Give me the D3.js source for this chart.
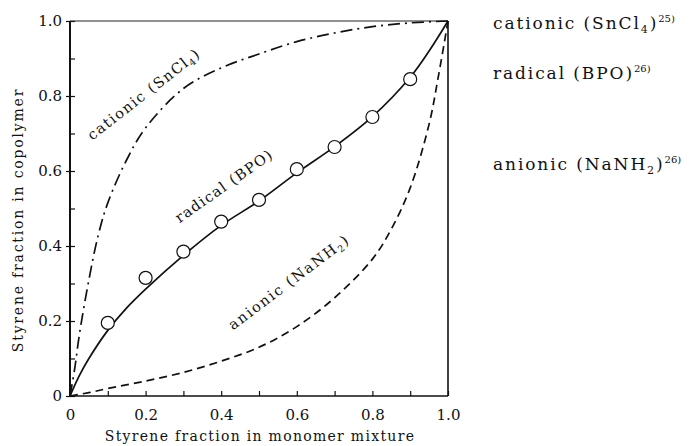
<!DOCTYPE html>
<html>
<head>
<meta charset="utf-8">
<script src="https://cdn.jsdelivr.net/npm/d3@7"></script>
<style>
  html, body { margin: 0; padding: 0; background: #fff; }
  svg { display: block; }
  text { font-family: "DejaVu Serif", "Liberation Serif", serif; fill: #111; }
</style>
</head>
<body>
<svg id="chart" width="689" height="446"></svg>
<script>
// Styrene fraction in monomer feed (x) vs. in copolymer (y)
const tickValues = [0, 0.2, 0.4, 0.6, 0.8, 1.0];
const tickLabels = ["0", "0.2", "0.4", "0.6", "0.8", "1.0"];
const minorTicks = [0.1, 0.3, 0.5, 0.7, 0.9];

// cationic (SnCl4) composition curve
const cationicX = [0, 0.012, 0.025, 0.05, 0.075, 0.1, 0.15, 0.2, 0.3, 0.4, 0.5, 0.6, 0.7, 0.8, 0.9, 1.0];
const cationicY = [0, 0.07, 0.165, 0.31, 0.43, 0.515, 0.63, 0.715, 0.82, 0.875, 0.912, 0.945, 0.968, 0.985, 0.995, 1.0];

// radical (BPO) composition curve
const radicalX = [0, 0.025, 0.05, 0.1, 0.15, 0.2, 0.3, 0.4, 0.5, 0.6, 0.7, 0.8, 0.9, 0.95, 1.0];
const radicalY = [0, 0.055, 0.1, 0.175, 0.235, 0.285, 0.375, 0.455, 0.52, 0.595, 0.665, 0.745, 0.85, 0.92, 1.0];

// radical (BPO) measured points
const pointX = [0.1, 0.2, 0.3, 0.4, 0.5, 0.6, 0.7, 0.8, 0.9];
const pointY = [0.195, 0.315, 0.385, 0.465, 0.523, 0.605, 0.664, 0.744, 0.845];

// anionic (NaNH2) composition curve
const anionicX = [0, 0.05, 0.1, 0.2, 0.3, 0.4, 0.5, 0.6, 0.7, 0.8, 0.85, 0.9, 0.95, 0.975, 1.0];
const anionicY = [0, 0.009, 0.02, 0.04, 0.063, 0.093, 0.13, 0.185, 0.262, 0.365, 0.445, 0.555, 0.725, 0.855, 1.0];

const svg = d3.select("#chart");
const x = d3.scaleLinear().domain([0, 1]).range([70, 448]);
const y = d3.scaleLinear().domain([0, 1]).range([396, 21]);

const allTicks = tickValues.concat(minorTicks).sort((a, b) => a - b);
const fmt = v => {
  const i = tickValues.findIndex(t => Math.abs(t - v) < 1e-9);
  return i >= 0 ? tickLabels[i] : "";
};

// axes: inward ticks, labels only on the major values
const gx = svg.append("g").attr("transform", `translate(0,${y(0)})`)
  .call(d3.axisBottom(x).tickValues(allTicks).tickSize(-5).tickPadding(13).tickFormat(fmt));
const gy = svg.append("g").attr("transform", `translate(${x(0)},0)`)
  .call(d3.axisLeft(y).tickValues(allTicks).tickSize(-5).tickPadding(8).tickFormat(fmt));
[gx, gy].forEach(g => {
  g.select(".domain").remove();
  g.selectAll("line").attr("stroke", "#111").attr("stroke-width", 1.2);
  g.selectAll("text").attr("font-size", 15).attr("font-family", "DejaVu Serif").attr("fill", "#111");
});
// short outward marks at the labelled y values
gy.selectAll(".tick").filter(d => tickValues.some(t => Math.abs(t - d) < 1e-9))
  .append("line").attr("x2", -4).attr("stroke", "#111").attr("stroke-width", 1.2);

// frame
svg.append("line").attr("x1", x(0)).attr("x2", x(1)).attr("y1", y(1)).attr("y2", y(1))
  .attr("stroke", "#222").attr("stroke-width", 1.1);
svg.append("line").attr("x1", x(1)).attr("x2", x(1)).attr("y1", y(1)).attr("y2", y(0))
  .attr("stroke", "#111").attr("stroke-width", 1.6);
svg.append("line").attr("x1", x(0)).attr("x2", x(1)).attr("y1", y(0)).attr("y2", y(0))
  .attr("stroke", "#111").attr("stroke-width", 1.6);
svg.append("line").attr("x1", x(0)).attr("x2", x(0)).attr("y1", y(1)).attr("y2", y(0))
  .attr("stroke", "#111").attr("stroke-width", 2);

const line = d3.line().x(d => x(d[0])).y(d => y(d[1])).curve(d3.curveCatmullRom.alpha(0.5));
const zip = (a, b) => a.map((v, i) => [v, b[i]]);

svg.append("path").attr("d", line(zip(cationicX, cationicY)))
  .attr("fill", "none").attr("stroke", "#111").attr("stroke-width", 1.7)
  .attr("stroke-dasharray", "12,5,2,5");
svg.append("path").attr("d", line(zip(radicalX, radicalY)))
  .attr("fill", "none").attr("stroke", "#111").attr("stroke-width", 1.7);
svg.append("path").attr("d", line(zip(anionicX, anionicY)))
  .attr("fill", "none").attr("stroke", "#111").attr("stroke-width", 1.7)
  .attr("stroke-dasharray", "8,5");

svg.append("g").selectAll("circle").data(zip(pointX, pointY)).join("circle")
  .attr("cx", d => x(d[0])).attr("cy", d => y(d[1])).attr("r", 6.5)
  .attr("fill", "#fff").attr("stroke", "#111").attr("stroke-width", 1.2);

// curve labels along the curves
function curveLabel(cx, cy, angle, parts, size, spacing) {
  const t = svg.append("text")
    .attr("transform", `translate(${cx},${cy}) rotate(${angle})`)
    .attr("text-anchor", "middle").attr("font-size", size)
    .attr("letter-spacing", spacing);
  parts.forEach(p => {
    const s = t.append("tspan").text(p.t);
    if (p.sub) s.attr("font-size", size * 0.65).attr("dy", size * 0.2);
    if (p.back) s.attr("dy", -size * 0.2);
  });
}
curveLabel(147, 98, -38, [{t: "cationic (SnCl"}, {t: "4", sub: true}, {t: ")", back: true}], 14.5, 1.5);
curveLabel(227, 190, -35, [{t: "radical (BPO)"}], 14.5, 1.3);
curveLabel(292, 286, -37, [{t: "anionic (NaNH"}, {t: "2", sub: true}, {t: ")", back: true}], 14.5, 1.7);

// legend text at the right
function sideLabel(lx, ly, parts) {
  const t = svg.append("text").attr("x", lx).attr("y", ly)
    .attr("font-size", 17).attr("letter-spacing", 1.9);
  parts.forEach(p => {
    const s = t.append("tspan").text(p.t);
    if (p.sub) s.attr("font-size", 11).attr("dy", 4);
    if (p.sup) s.attr("font-size", 10).attr("letter-spacing", 0).attr("dy", p.dy);
    if (p.back) s.attr("dy", -4);
  });
}
sideLabel(493, 29, [{t: "cationic (SnCl"}, {t: "4", sub: true}, {t: ")", back: true}, {t: "25)", sup: true, dy: -7}]);
sideLabel(493, 79, [{t: "radical (BPO)"}, {t: "26)", sup: true, dy: -7}]);
sideLabel(493, 170, [{t: "anionic (NaNH"}, {t: "2", sub: true}, {t: ")", back: true}, {t: "26)", sup: true, dy: -7}]);

// axis titles
svg.append("text").attr("x", 260).attr("y", 441).attr("text-anchor", "middle")
  .attr("font-size", 14).attr("letter-spacing", 1.3)
  .text("Styrene fraction in monomer mixture");
svg.append("text").attr("transform", "translate(23,220) rotate(-90)").attr("text-anchor", "middle")
  .attr("font-size", 14).attr("letter-spacing", 1.8)
  .text("Styrene fraction in copolymer");
</script>
</body>
</html>
